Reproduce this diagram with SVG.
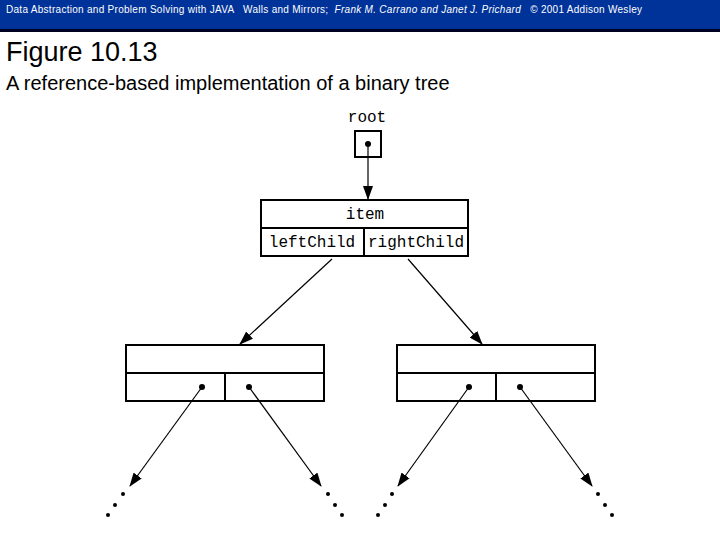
<svg xmlns="http://www.w3.org/2000/svg" width="720" height="540" viewBox="0 0 720 540">
<style>
.box{fill:none;stroke:#000;stroke-width:2}
.ln{stroke:#000;stroke-width:1.2;fill:none}
.mono{font-family:"Liberation Mono",monospace;font-size:16px}
.sans{font-family:"Liberation Sans",Arial,sans-serif}
</style>
<defs><marker id="ah" markerWidth="14" markerHeight="10" refX="13" refY="5" orient="auto" markerUnits="userSpaceOnUse"><path d="M0,0 L14,5 L0,10 Z"/></marker></defs>
<rect width="720" height="540" fill="#fff"/>
<rect width="720" height="29" fill="#003399"/>
<rect y="29" width="720" height="3" fill="#000022"/>
<text x="6" y="13" class="sans" font-size="10" fill="#fff" textLength="636" lengthAdjust="spacing" xml:space="preserve">Data Abstraction and Problem Solving with JAVA   Walls and Mirrors;  <tspan font-style="italic">Frank M. Carrano and Janet J. Prichard</tspan>   © 2001 Addison Wesley</text>
<text x="6" y="61" class="sans" font-size="27">Figure 10.13</text>
<text x="6" y="90" class="sans" font-size="20">A reference-based implementation of a binary tree</text>
<g id="root"><text x="367" y="122" class="mono" text-anchor="middle">root</text><rect class="box" x="355" y="131" width="26" height="26"/><circle cx="368" cy="144" r="3"/></g>
<g id="n0"><rect class="box" x="261" y="200" width="207" height="56"/><line class="box" x1="261" y1="228" x2="468" y2="228"/><line class="box" x1="364" y1="228" x2="364" y2="256"/>
<text x="365" y="219" class="mono" text-anchor="middle">item</text><text x="312" y="247" class="mono" text-anchor="middle">leftChild</text><text x="416" y="247" class="mono" text-anchor="middle">rightChild</text></g>
<g id="n1"><rect class="box" x="126" y="345" width="198" height="56"/><line class="box" x1="126" y1="373" x2="324" y2="373"/><line class="box" x1="225" y1="373" x2="225" y2="401"/><circle cx="202" cy="387" r="3"/><circle cx="249" cy="387" r="3"/></g>
<g id="n2"><rect class="box" x="397" y="345" width="198" height="56"/><line class="box" x1="397" y1="373" x2="595" y2="373"/><line class="box" x1="496" y1="373" x2="496" y2="401"/><circle cx="469" cy="387" r="3"/><circle cx="520" cy="387" r="3"/></g>
<g id="dots" fill="#000"><circle cx="123" cy="494" r="2"/><circle cx="115" cy="505" r="2"/><circle cx="108" cy="515" r="2"/>
<circle cx="328" cy="494" r="2"/><circle cx="335" cy="505" r="2"/><circle cx="342" cy="515" r="2"/>
<circle cx="392" cy="494" r="2"/><circle cx="385" cy="505" r="2"/><circle cx="378" cy="515" r="2"/>
<circle cx="598" cy="494" r="2"/><circle cx="605" cy="505" r="2"/><circle cx="612" cy="515" r="2"/></g>
<g id="connectors">
<line class="ln" x1="368" y1="144" x2="368" y2="199" marker-end="url(#ah)"/>
<line class="ln" x1="332" y1="259" x2="240" y2="344" marker-end="url(#ah)"/>
<line class="ln" x1="408" y1="259" x2="482" y2="344" marker-end="url(#ah)"/>
<line class="ln" x1="202" y1="387" x2="130" y2="486" marker-end="url(#ah)"/>
<line class="ln" x1="249" y1="387" x2="321" y2="486" marker-end="url(#ah)"/>
<line class="ln" x1="469" y1="387" x2="398" y2="486" marker-end="url(#ah)"/>
<line class="ln" x1="520" y1="387" x2="592" y2="486" marker-end="url(#ah)"/>
</g>
</svg>
